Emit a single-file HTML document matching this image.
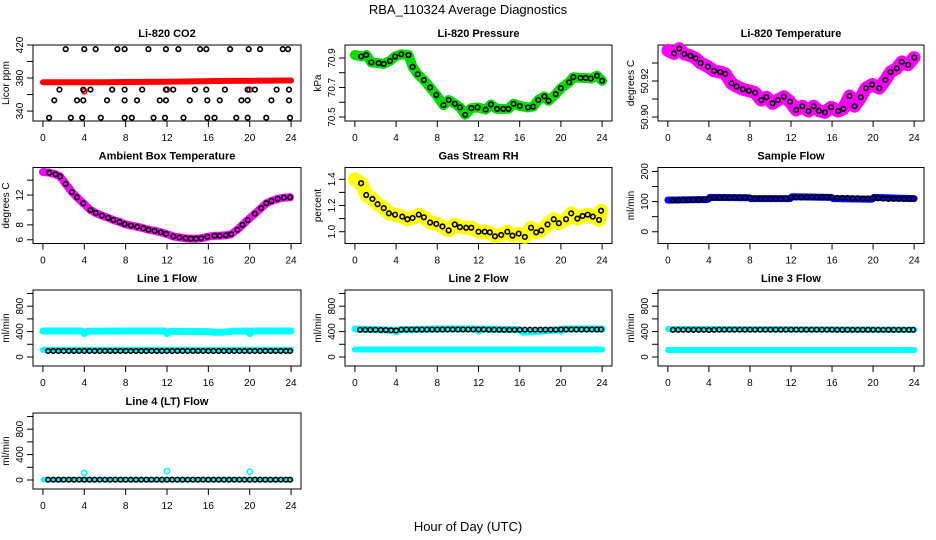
<!DOCTYPE html>
<html><head><meta charset="utf-8"><style>
body{margin:0;background:#fff}
svg{display:block}
text{font-family:"Liberation Sans",sans-serif;fill:#000}
</style></head><body>
<svg id="c" width="936" height="540" viewBox="0 0 936 540" xmlns="http://www.w3.org/2000/svg">
<rect width="936" height="540" fill="#fff"/>
<text x="468" y="14" font-size="13" text-anchor="middle">RBA_110324  Average Diagnostics</text>
<text x="468" y="531" font-size="13" text-anchor="middle">Hour of Day (UTC)</text>
</svg>
<script>
// ---- data ----
const xTicks = [0,4,8,12,16,20,24];
const hrs48 = [0.5,1,1.5,2,2.5,3,3.5,4,4.5,5,5.5,6,6.5,7,7.5,8,8.5,9,9.5,10,10.5,11,11.5,12,12.5,13,13.5,14,14.5,15,15.5,16,16.5,17,17.5,18,18.5,19,19.5,20,20.5,21,21.5,22,22.5,23,23.5,23.9];

const co2BandH = [0,6,12,18,24];
const co2BandV = [375,375,375.5,376.5,377];
const co2OutH = [4,12,20];
const co2OutV = [364,366,366];
const co2MeanH = [2.2,4.0,5.1,7.2,7.9,10.2,11.9,13.1,15.2,15.8,18.1,19.9,21.0,23.2,23.7,
 1.6,3.9,4.6,6.7,7.9,9.6,11.9,12.6,14.7,15.8,17.6,19.8,20.5,22.6,23.8,
 1.1,3.3,3.9,6.2,7.9,9.1,11.3,11.9,14.2,15.9,17.1,19.2,19.8,22.1,23.8,
 0.6,2.7,3.8,5.6,7.9,8.6,10.7,11.8,13.6,15.9,16.6,18.7,19.8,21.6,23.9];
const co2MeanV = [415,415,415,415,415,415,415,415,415,415,415,415,415,415,415,
 366,366,366,366,366,366,366,366,366,366,366,366,366,366,366,
 353,353,353,353,353,353,353,353,353,353,353,353,353,353,353,
 332,332,332,332,332,332,332,332,332,332,332,332,332,332,332];

const presH = [0,0.6,1.1,1.6,2.3,2.8,3.4,3.9,4.5,5.2,5.6,6.1,6.7,7.3,7.9,8.6,9.1,9.7,10.2,10.7,11.3,11.9,12.7,13.2,13.8,14.4,14.9,15.4,16.0,16.8,17.3,17.8,18.4,18.8,19.5,20.0,20.8,21.2,21.9,22.4,22.9,23.5,24];
const presV = [70.92,70.91,70.92,70.87,70.865,70.86,70.88,70.91,70.925,70.92,70.84,70.79,70.75,70.70,70.65,70.58,70.615,70.59,70.565,70.515,70.56,70.565,70.55,70.585,70.555,70.555,70.555,70.59,70.575,70.565,70.57,70.615,70.64,70.61,70.655,70.695,70.735,70.77,70.765,70.765,70.76,70.78,70.746];

const tempH = [0,0.6,1.1,1.6,2.2,2.7,3.2,3.9,4.5,5.1,5.6,6.2,6.7,7.3,7.9,8.5,9.1,9.6,10.2,10.7,11.3,11.9,12.5,13.1,13.7,14.2,14.7,15.3,15.9,16.6,17.1,17.7,18.2,18.8,19.3,19.9,20.6,21.2,21.7,22.3,22.8,23.4,24];
const tempV = [50.937,50.9353,50.938,50.935,50.934,50.9326,50.930,50.928,50.9256,50.925,50.924,50.9187,50.917,50.9154,50.9146,50.9135,50.9094,50.911,50.9076,50.9094,50.9113,50.9085,50.9039,50.906,50.9033,50.906,50.9035,50.9026,50.9054,50.9033,50.9046,50.9117,50.906,50.911,50.916,50.918,50.916,50.9206,50.925,50.927,50.9306,50.929,50.933];

const ambH = [0,0.6,1.2,1.65,2.2,2.8,3.3,3.9,4.6,5.1,5.7,6.3,6.8,7.4,7.9,8.5,9.1,9.7,10.2,10.8,11.4,11.9,12.6,13.2,13.8,14.3,14.8,15.3,15.9,16.6,17.1,17.7,18.2,18.8,19.3,19.8,20.5,21.1,21.6,22.1,22.7,23.3,23.9];
const ambV = [15.1,15.0,14.8,14.5,13.5,12.4,11.7,10.9,10.0,9.6,9.25,8.95,8.65,8.4,8.1,7.9,7.75,7.55,7.35,7.2,7.0,6.8,6.45,6.3,6.2,6.15,6.15,6.2,6.4,6.55,6.55,6.6,6.75,7.35,8.0,8.65,9.5,10.25,10.9,11.2,11.5,11.65,11.7];

const rhH = [0,0.6,1.1,1.7,2.2,2.8,3.3,3.9,4.6,5.1,5.6,6.2,6.7,7.3,7.9,8.5,9.1,9.7,10.2,10.8,11.3,12.0,12.6,13.1,13.6,14.2,14.8,15.3,15.9,16.5,17.1,17.6,18.1,18.7,19.3,19.8,20.5,21.0,21.6,22.1,22.6,23.1,23.7,23.9];
const rhV = [1.40,1.37,1.28,1.25,1.21,1.18,1.14,1.13,1.115,1.095,1.105,1.13,1.11,1.07,1.06,1.04,1.01,1.055,1.035,1.03,1.03,1.0,1.0,0.995,0.965,0.975,1.0,0.97,0.985,0.96,1.03,0.995,1.01,1.055,1.095,1.065,1.095,1.14,1.10,1.12,1.13,1.115,1.09,1.16];

const sampH = [0,3.9,4.1,7.9,8.1,11.9,12.1,15.9,16.1,19.9,20.1,24];
const sampV = [105,107,114,113,110,110,116,114,110,108,114,110];
const sampMean = [104,104,105,105,106,106,107,110,113,113,113,113,113,113,113,113,110,110,110,110,110,110,110,113,114,114,114,114,114,114,114,114,112,112,112,111,111,110,110,113,111,110,109,109,109,109,109,110];

const l1UpH = [0,3.8,4,4.3,8,11.8,12,12.3,16,16.5,17.5,18.2,19.8,20,20.3,24];
const l1UpV = [410,410,370,405,410,410,370,405,400,390,390,405,410,370,410,410];
const l1LoV = 112;
const l1Mean = [95,95,95,95,95,95,95,95,95,95,95,95,95,95,95,95,95,95,95,95,95,95,95,95,95,95,95,95,95,95,95,95,95,95,95,95,95,95,95,95,95,95,95,95,95,95,95,95];

const l2UpH = [0,3.8,4,4.3,8,11.8,12,12.3,16,16.3,19.8,20,20.3,24];
const l2UpV = [440,420,400,430,440,440,410,440,430,390,430,410,440,440];
const l2LoV = 118;
const l2Mean = [428,428,428,428,425,425,420,418,430,432,432,432,432,432,432,432,433,433,433,433,433,433,433,433,433,430,430,430,428,428,428,428,430,430,430,430,430,430,430,433,433,433,433,433,433,433,433,433];

const l3UpH = [0,24];
const l3UpV = [440,430];
const l3LoV = 110;
const l3Mean = [428,428,428,428,428,428,428,425,428,430,430,430,430,430,430,430,430,430,430,430,430,430,430,430,430,430,430,430,430,430,430,430,428,428,428,428,428,428,428,428,428,428,428,428,428,428,428,428];

const l4OutH = [4,12,20];
const l4OutV = [110,140,130];
const l4Mean = [5,5,5,5,5,5,5,5,5,5,5,5,5,5,5,5,5,5,5,5,5,5,5,5,5,5,5,5,5,5,5,5,5,5,5,5,5,5,5,5,5,5,5,5,5,5,5,5];

// ---- drawing ----
const NS = "http://www.w3.org/2000/svg";
const svg = document.getElementById('c');
const colL = [33,345,658], colR = [301,612,924];
const rowT = [45,167.5,290,413];
function mk(tag, attrs, parent){const e=document.createElementNS(NS,tag);for(const k in attrs)e.setAttribute(k,attrs[k]);(parent||svg).appendChild(e);return e;}

function panel(col,row,title,ylab,ylim,ticks,labels,name){
  const L=colL[col],R=colR[col],T=rowT[row],B=T+76;
  const g=mk('g',{});
  
  
  const sx=h=>L+(h+0.96)/25.92*(R-L);
  const sy=v=>B-(v-ylim[0])/(ylim[1]-ylim[0])*(B-T);
  const t=mk('text',{x:(L+R)/2,y:T-8,'font-size':11,'font-weight':'bold','text-anchor':'middle'},g);
  t.textContent=title;
  
  
  const yl=mk('text',{x:0,y:0,'font-size':10,'text-anchor':'middle',transform:`translate(${L-24},${(T+B)/2}) rotate(-90)`},g);
  yl.textContent=ylab;
  
  
  mk('line',{x1:sx(0),x2:sx(24),y1:B,y2:B,stroke:'#000','stroke-width':1},g);
  xTicks.forEach(h=>{
    mk('line',{x1:sx(h),x2:sx(h),y1:B,y2:B+6,stroke:'#000'},g);
    const tl=mk('text',{x:sx(h),y:B+20,'font-size':10,'text-anchor':'middle'},g);
    tl.textContent=h;
    
    
  });
  ticks.forEach(v=>{
    mk('line',{x1:L,x2:L-6,y1:sy(v),y2:sy(v),stroke:'#000'},g);
  });
  labels.forEach(s=>{
    const tl=mk('text',{x:0,y:0,'font-size':10,'text-anchor':'middle',transform:`translate(${L-10},${sy(parseFloat(s))}) rotate(-90)`},g);
    tl.textContent=s;
    
    
  });
  const box=mk('rect',{x:L,y:T,width:R-L,height:B-T,fill:'none',stroke:'#000','stroke-width':1},g);
  
  
  return {g,sx,sy};
}
function band(p,H,V,color,w,name){
  const d=H.map((h,i)=>(i?'L':'M')+p.sx(h).toFixed(1)+' '+p.sy(V[i]).toFixed(1)).join(' ');
  const e=mk('path',{d,fill:'none',stroke:color,'stroke-width':w,'stroke-linecap':'round','stroke-linejoin':'round'},p.g);
  
  
}
function pts(p,H,V,color,r,name){
  H.forEach((h,i)=>{
    const c=mk('circle',{cx:p.sx(h),cy:p.sy(V[i]),r:r,fill:'none',stroke:color,'stroke-width':1.6},p.g);
    
    
  });
}
const flat=(H,v)=>H.map(()=>v);

let p;
p=panel(0,0,'Li-820 CO2','Licor ppm',[328,420],[340,360,380,400,420],['340','380','420'],'co2');
band(p,co2BandH,co2BandV,'#ff0000',6,'co2-band');
pts(p,co2OutH,co2OutV,'#ff0000',2.5,'co2-outlier');
pts(p,co2MeanH,co2MeanV,'#000',2.3,'co2-mean-point');

p=panel(1,0,'Li-820 Pressure','kPa',[70.473,70.988],[70.5,70.6,70.7,70.8,70.9],['70.5','70.7','70.9'],'pressure');
band(p,presH,presV,'#00dd00',10,'pressure-band');
pts(p,presH.slice(1),presV.slice(1),'#000',2.3,'pressure-mean-point');

p=panel(2,0,'Li-820 Temperature','degrees C',[50.8978,50.94],[50.90,50.91,50.92,50.93],['50.90','50.92'],'temperature');
band(p,tempH,tempV,'#ff00ff',13,'temperature-band');
pts(p,tempH.slice(1),tempV.slice(1),'#000',2.3,'temperature-mean-point');

p=panel(0,1,'Ambient Box Temperature','degrees C',[5.5,15.7],[6,8,10,12,14],['6','8','12'],'ambient');
band(p,ambH,ambV,'#ff00ff',8,'ambient-band');
pts(p,ambH.slice(1),ambV.slice(1),'#000',2.3,'ambient-mean-point');

p=panel(1,1,'Gas Stream RH','percent',[0.91,1.49],[1.0,1.1,1.2,1.3,1.4],['1.0','1.2','1.4'],'rh');
band(p,rhH,rhV,'#ffff00',14,'rh-band');
pts(p,rhH.slice(1),rhV.slice(1),'#000',2.3,'rh-mean-point');

p=panel(2,1,'Sample Flow','ml/min',[-39,213],[0,50,100,150,200],['0','100','200'],'sample-flow');
band(p,sampH,sampV,'#0000ff',7,'sample-flow-band');
pts(p,hrs48,sampMean,'#000',2.3,'sample-flow-mean-point');

const fT=[0,200,400,600,800,1000], fL=['0','400','800'], fY=[-142,1055];
p=panel(0,2,'Line 1 Flow','ml/min',fY,fT,fL,'line1-flow');
band(p,l1UpH,l1UpV,'#00ffff',7,'line1-upper-band');
band(p,[0,24],flat([0,24],l1LoV),'#00ffff',6,'line1-lower-band');
pts(p,hrs48,l1Mean,'#000',2.3,'line1-mean-point');

p=panel(1,2,'Line 2 Flow','ml/min',fY,fT,fL,'line2-flow');
band(p,l2UpH,l2UpV,'#00ffff',7,'line2-upper-band');
band(p,[0,24],flat([0,24],l2LoV),'#00ffff',6,'line2-lower-band');
pts(p,hrs48,l2Mean,'#000',2.3,'line2-mean-point');

p=panel(2,2,'Line 3 Flow','ml/min',fY,fT,fL,'line3-flow');
band(p,l3UpH,l3UpV,'#00ffff',6,'line3-upper-band');
band(p,[0,24],flat([0,24],l3LoV),'#00ffff',6,'line3-lower-band');
pts(p,hrs48,l3Mean,'#000',2.3,'line3-mean-point');

p=panel(0,3,'Line 4 (LT) Flow','ml/min',fY,fT,fL,'line4-flow');
band(p,[0,24],[5,5],'#00ffff',5,'line4-band');
pts(p,l4OutH,l4OutV,'#00ffff',2.6,'line4-outlier');
pts(p,hrs48,l4Mean,'#000',2.3,'line4-mean-point');
</script>
</body></html>
